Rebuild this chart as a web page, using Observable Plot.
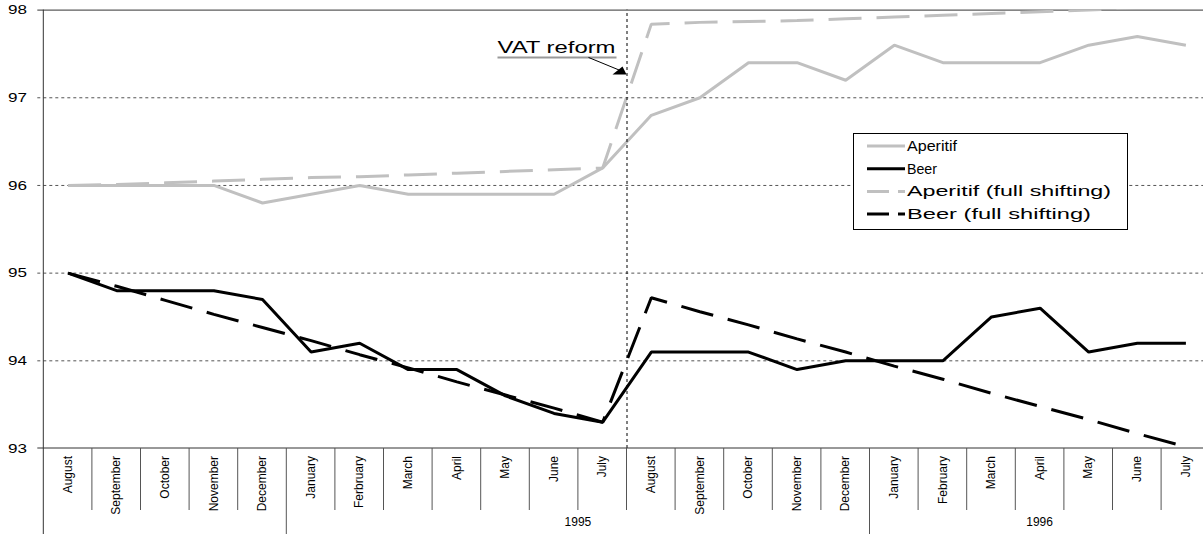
<!DOCTYPE html>
<html>
<head>
<meta charset="utf-8">
<script src="https://cdn.jsdelivr.net/npm/d3@7"></script>
<script src="https://cdn.jsdelivr.net/npm/@observablehq/plot@0.6"></script>
<style>
  body { margin: 0; background: #fff; }
  #wrap { position: relative; width: 1203px; height: 537px; overflow: hidden; background: #fff; }
  #wrap > svg { position: absolute; left: 0; top: 0; }
  #legend { position: absolute; }
</style>
</head>
<body>
<div id="wrap"></div>
<script>
// ---------------- data ----------------
const months = ["August","September","October","November","December","January","Ferbruary","March","April","May","June","July",
                "August","September","October","November","December","January","February","March","April","May","June","July"];
const yearLabels = ["", "1995", "1996"];
const yearStart = [-0.5, 4.5, 16.5];   // category boundaries (index space)
const yearEnd   = [4.5, 16.5, 23.5];
const yTicks = [93, 94, 95, 96, 97, 98];
const vatIndex = 11.5;                  // boundary July 1995 | August 1995
const vatLabel = "VAT reform";

const aperitif     = [96.0,96.0,96.0,96.0,95.8,95.9,96.0,95.9,95.9,95.9,95.9,96.2,
                      96.8,97.0,97.4,97.4,97.2,97.6,97.4,97.4,97.4,97.6,97.7,97.6];
const beer         = [95.0,94.8,94.8,94.8,94.7,94.1,94.2,93.9,93.9,93.6,93.4,93.3,
                      94.1,94.1,94.1,93.9,94.0,94.0,94.0,94.5,94.6,94.1,94.2,94.2];
const aperitifFull = [96.0,96.01,96.03,96.05,96.07,96.09,96.1,96.12,96.14,96.16,96.18,96.2,
                      97.84,97.86,97.87,97.88,97.9,97.92,97.94,97.96,97.98,98.0,98.03,98.05];
const beerFull     = [95.0,94.85,94.69,94.53,94.38,94.23,94.07,93.92,93.76,93.61,93.46,93.3,
                      94.72,94.56,94.41,94.25,94.1,93.94,93.79,93.63,93.48,93.33,93.17,93.02];

const seriesNames = ["Aperitif", "Beer", "Aperitif (full shifting)", "Beer (full shifting)"];

// ---------------- styles ----------------
const GRAY = "#c0c0c0";
const FONT = '"Liberation Sans", Arial, Helvetica, sans-serif';
const DASH = "33,15";

const rows = months.map((m, i) => ({i, aperitif: aperitif[i], beer: beer[i], af: aperitifFull[i], bf: beerFull[i]}));

const chart = Plot.plot({
  width: 1203,
  height: 537,
  marginLeft: 43.3,
  marginRight: 0,
  marginTop: 9.6,
  marginBottom: 89,
  x: {domain: [-0.5, 23.5], range: [43.3, 1209.7], axis: null},
  y: {domain: [93, 98], axis: null},
  style: {background: "white", fontFamily: FONT, overflow: "visible"},
  marks: [
    Plot.ruleY(yTicks.filter(v => v > 93 && v < 98), {stroke: "#555", strokeWidth: 1, strokeDasharray: "3,3", insetLeft: -6}),
    Plot.ruleY([98], {stroke: "#333", strokeWidth: 1, insetLeft: -6}),
    Plot.line(rows, {x: "i", y: "aperitif", stroke: GRAY, strokeWidth: 3, strokeLinejoin: "miter", strokeLinecap: "butt"}),
    Plot.line(rows, {x: "i", y: "beer", stroke: "#000", strokeWidth: 3, strokeLinejoin: "miter", strokeLinecap: "butt"}),
    Plot.line(rows, {x: "i", y: "af", stroke: GRAY, strokeWidth: 3, strokeDasharray: DASH, strokeLinecap: "butt", strokeLinejoin: "miter", clip: true}),
    Plot.line(rows, {x: "i", y: "bf", stroke: "#000", strokeWidth: 3, strokeDasharray: DASH, strokeLinecap: "butt", strokeLinejoin: "miter", clip: true}),
    Plot.ruleX([vatIndex], {y1: 93, y2: 98, stroke: "#000", strokeWidth: 1, strokeDasharray: "3,3"})
  ]
});

document.getElementById("wrap").appendChild(chart);

// ---------------- axes / category table via scales ----------------
const sx = chart.scale("x"), sy = chart.scale("y");
const X = sx.apply ? v => sx.apply(v) : d3.scaleLinear(sx.domain, sx.range);
const Y = sy.apply ? v => sy.apply(v) : d3.scaleLinear(sy.domain, sy.range);

const svg = d3.select(chart);
const g = svg.append("g").attr("font-family", FONT);
const y0 = Y(93), yTop = Y(98);
const x0 = X(-0.5);

// x axis line
g.append("line").attr("x1", x0 - 6).attr("x2", 1203).attr("y1", y0).attr("y2", y0)
  .attr("stroke", "#333").attr("stroke-width", 1);
// left axis line (extends through the category table)
g.append("line").attr("x1", x0).attr("x2", x0).attr("y1", yTop).attr("y2", y0 + 86)
  .attr("stroke", "#333").attr("stroke-width", 1);

// category separators
const groupBounds = yearStart.slice(1);
d3.range(months.length - 1).forEach(k => {
  const b = k + 0.5;
  const long = groupBounds.includes(b);
  g.append("line").attr("x1", X(b)).attr("x2", X(b)).attr("y1", y0).attr("y2", y0 + (long ? 86 : 62))
    .attr("stroke", "#555").attr("stroke-width", 1);
});

// month labels
months.forEach((m, i) => {
  g.append("text")
    .attr("transform", `translate(${X(i)},${y0 + 8}) rotate(-90)`)
    .attr("text-anchor", "end").attr("dy", "0.35em")
    .attr("font-size", 12).attr("fill", "#000")
    .text(m);
});

// year labels
yearLabels.forEach((t, k) => {
  if (!t) return;
  g.append("text")
    .attr("x", (X(yearStart[k]) + X(yearEnd[k])) / 2).attr("y", y0 + 74)
    .attr("text-anchor", "middle").attr("dy", "0.35em")
    .attr("font-size", 12).attr("fill", "#000")
    .text(t);
});

// y tick labels
yTicks.forEach(v => {
  g.append("text")
    .attr("x", 27).attr("y", Y(v)).attr("dy", "0.35em")
    .attr("text-anchor", "end").attr("font-size", 13.5)
    .attr("textLength", 19).attr("lengthAdjust", "spacingAndGlyphs")
    .attr("fill", "#000").text(String(v));
});

// ---------------- VAT reform annotation ----------------
const vx = X(vatIndex);
const tipY = Y(97.27);
const baseY = Y(97.5);
const ann = svg.append("g").attr("font-family", FONT).attr("text-anchor", "start");
ann.append("text").attr("x", vx - 129).attr("y", baseY).attr("font-size", 16).attr("text-anchor", "start")
  .attr("textLength", 118).attr("lengthAdjust", "spacingAndGlyphs").attr("fill", "#000").text(vatLabel);
ann.append("line").attr("x1", vx - 129).attr("x2", vx - 10).attr("y1", baseY + 4).attr("y2", baseY + 4)
  .attr("stroke", "#999").attr("stroke-width", 2);
ann.append("line").attr("x1", vx - 38).attr("y1", baseY + 4).attr("x2", vx - 6).attr("y2", tipY - 3)
  .attr("stroke", "#000").attr("stroke-width", 1);
ann.append("polygon")
  .attr("points", `${vx - 14},${tipY + 1} ${vx},${tipY + 1} ${vx - 4},${tipY - 7}`)
  .attr("fill", "#000");

// ---------------- legend (overlay) ----------------
const legendTextLen = [50, 30, 204, 184];
const legendStroke = [GRAY, "#000", GRAY, "#000"];
const legendDash = [null, null, "22,9", "22,9"];
const lg = d3.select("#wrap").append("svg").attr("id", "legend")
  .attr("width", 278).attr("height", 100)
  .style("left", "852px").style("top", "132px")
  .attr("font-family", FONT);
lg.append("rect").attr("x", 1.5).attr("y", 1.5).attr("width", 274).attr("height", 96)
  .attr("fill", "#fff").attr("stroke", "#000").attr("stroke-width", 1);
seriesNames.forEach((name, k) => {
  const cy = 14 + k * 22.7;
  const ln = lg.append("line").attr("x1", 15).attr("x2", 53).attr("y1", cy).attr("y2", cy)
    .attr("stroke", legendStroke[k]).attr("stroke-width", 3);
  if (legendDash[k]) ln.attr("stroke-dasharray", legendDash[k]);
  lg.append("text").attr("x", 55).attr("y", cy).attr("dy", "0.35em")
    .attr("font-size", 14).attr("textLength", legendTextLen[k]).attr("lengthAdjust", "spacingAndGlyphs")
    .attr("fill", "#000").text(name);
});
</script>
</body>
</html>
